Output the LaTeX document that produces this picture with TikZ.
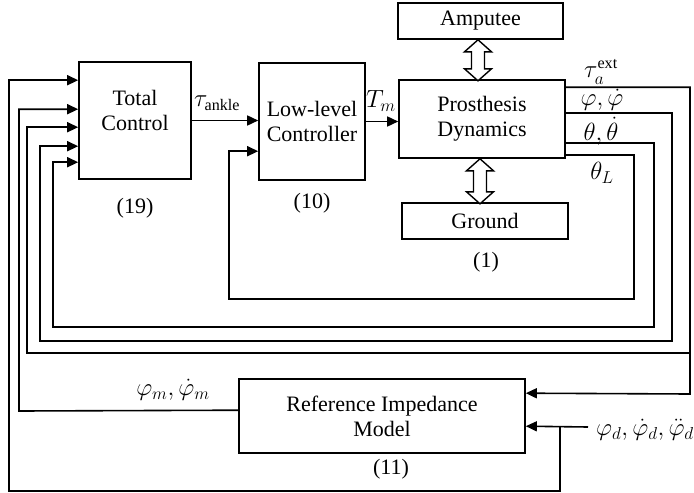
\documentclass[tikz,border=0pt]{standalone}
\usepackage{fontspec}
\setmainfont{Liberation Serif}
\usetikzlibrary{arrows.meta,calc}
\newcommand\dblarrow[2]{%
  \draw[line width=1.4pt,fill=white] (#1) -- ++(13.5,12) -- ++(-7,0) -- ++(0,{#2-24})
    -- ++(7,0) -- ++(-13.5,12) -- ++(-13.5,-12) -- ++(7,0) -- ++(0,{24-#2}) -- ++(-7,0) -- cycle;}
\begin{document}
\begin{tikzpicture}[x=1pt,y=-1pt,
  box/.style={draw,line width=1.6pt,inner sep=0pt,align=center,font=\fontsize{22}{25}\selectfont},
  line/.style={line width=1.6pt},
  arr/.style={line width=1.6pt,-{Triangle[length=11pt,width=10pt]}},
  lab/.style={font=\fontsize{22}{25}\selectfont,inner sep=0pt},
  mlab/.style={font=\fontsize{23}{26}\selectfont,inner sep=0pt}]
\useasboundingbox (0,0) rectangle (694,493);
% boxes
\node[box,minimum width=112pt,minimum height=117pt] (tc) at (135,120.5) {Total\\Control\\[-4pt]};
\node[box,minimum width=106pt,minimum height=117pt] (ll) at (312,121.5) {Low-level\\Controller};
\node[box,minimum width=166pt,minimum height=78pt] (pd) at (482,119) {Prosthesis\\Dynamics};
\node[box,minimum width=165pt,minimum height=36pt] (amp) at (480.5,21) {Amputee};
\node[box,minimum width=166pt,minimum height=36pt] (gnd) at (485,221) {Ground};
\node[box,minimum width=286pt,minimum height=74pt] (ref) at (382,416) {Reference Impedance\\Model};
% equation numbers
\node[lab] (n19) at (135,208) {(19)};
\node[lab] (n10) at (312,203) {(10)};
\node[lab] (n1) at (486,262) {(1)};
\node[lab] (n11) at (391,469) {(11)};
% double arrows
\coordinate (da) at ($(amp.south)+(-2.5,0)$);
\dblarrow{da}{41}
\coordinate (db) at ($(pd.south)+(-2,0)$);
\dblarrow{db}{45}
% forward path
\draw[arr] (tc.east) -- (tc.east -| ll.west);
\node[mlab] (ltau) at (217,103) {$\tau_{\mathrm{ankle}}$};
\draw[arr] (ll.east) -- (ll.east -| pd.west);
\node[mlab] (ltm) at (381,101) {$T_m$};
% outputs of prosthesis
\coordinate (o1) at ($(pd.north east)+(0,8)$);
\coordinate (o2) at ($(pd.north east)+(0,34)$);
\coordinate (o3) at ($(pd.north east)+(0,64)$);
\coordinate (o4) at ($(pd.north east)+(0,76)$);
\coordinate (i1) at ($(tc.north west)+(0,19)$);
\coordinate (i2) at ($(tc.north west)+(0,48)$);
\coordinate (i3) at ($(tc.north west)+(0,66)$);
\coordinate (i4) at ($(tc.north west)+(0,85)$);
\coordinate (i5) at ($(tc.north west)+(0,101)$);
\coordinate (l2) at ($(ll.north west)+(0,89)$);
\coordinate (r1) at ($(ref.north east)+(0,15)$);
\coordinate (r2) at ($(ref.north east)+(0,48)$);
\coordinate (rw) at ($(ref.north west)+(0,32)$);
\coordinate (pdin) at (588,427);
% tau_a^ext
\draw[arr] (o1) -| (690,394) -- (r1);
\draw[arr] (690,353) -- (27,353) |- (i3);
\node[mlab] (ltext) at (601,72) {$\tau_a^{\mathrm{ext}}$};
% phi
\draw[arr] (o2) -| (672,341) -- (40,341) |- (i4);
\node[mlab] (lphi) at (602,100) {$\varphi,\dot\varphi$};
% theta
\draw[arr] (o3) -| (654,327) -- (53,327) |- (i5);
\node[mlab] (lth) at (601,131) {$\theta,\dot\theta$};
% theta_L
\draw[arr] (o4) -| (634,299) -- (229,299) |- (l2);
\node[mlab] (lthl) at (602,173) {$\theta_L$};
% phi_m
\draw[arr] (rw) -- (19,411) |- (i2);
\node[mlab] (lphm) at (173,390) {$\varphi_m,\dot\varphi_m$};
% phi_d
\draw[arr] (pdin) -- (r2);
\draw[arr] (560,427) -- (560,491) -- (9,491) |- (i1);
\node[mlab,anchor=west] (lphd) at (596,430) {$\varphi_d,\dot\varphi_d,\ddot\varphi_d$};
\end{tikzpicture}
\end{document}
